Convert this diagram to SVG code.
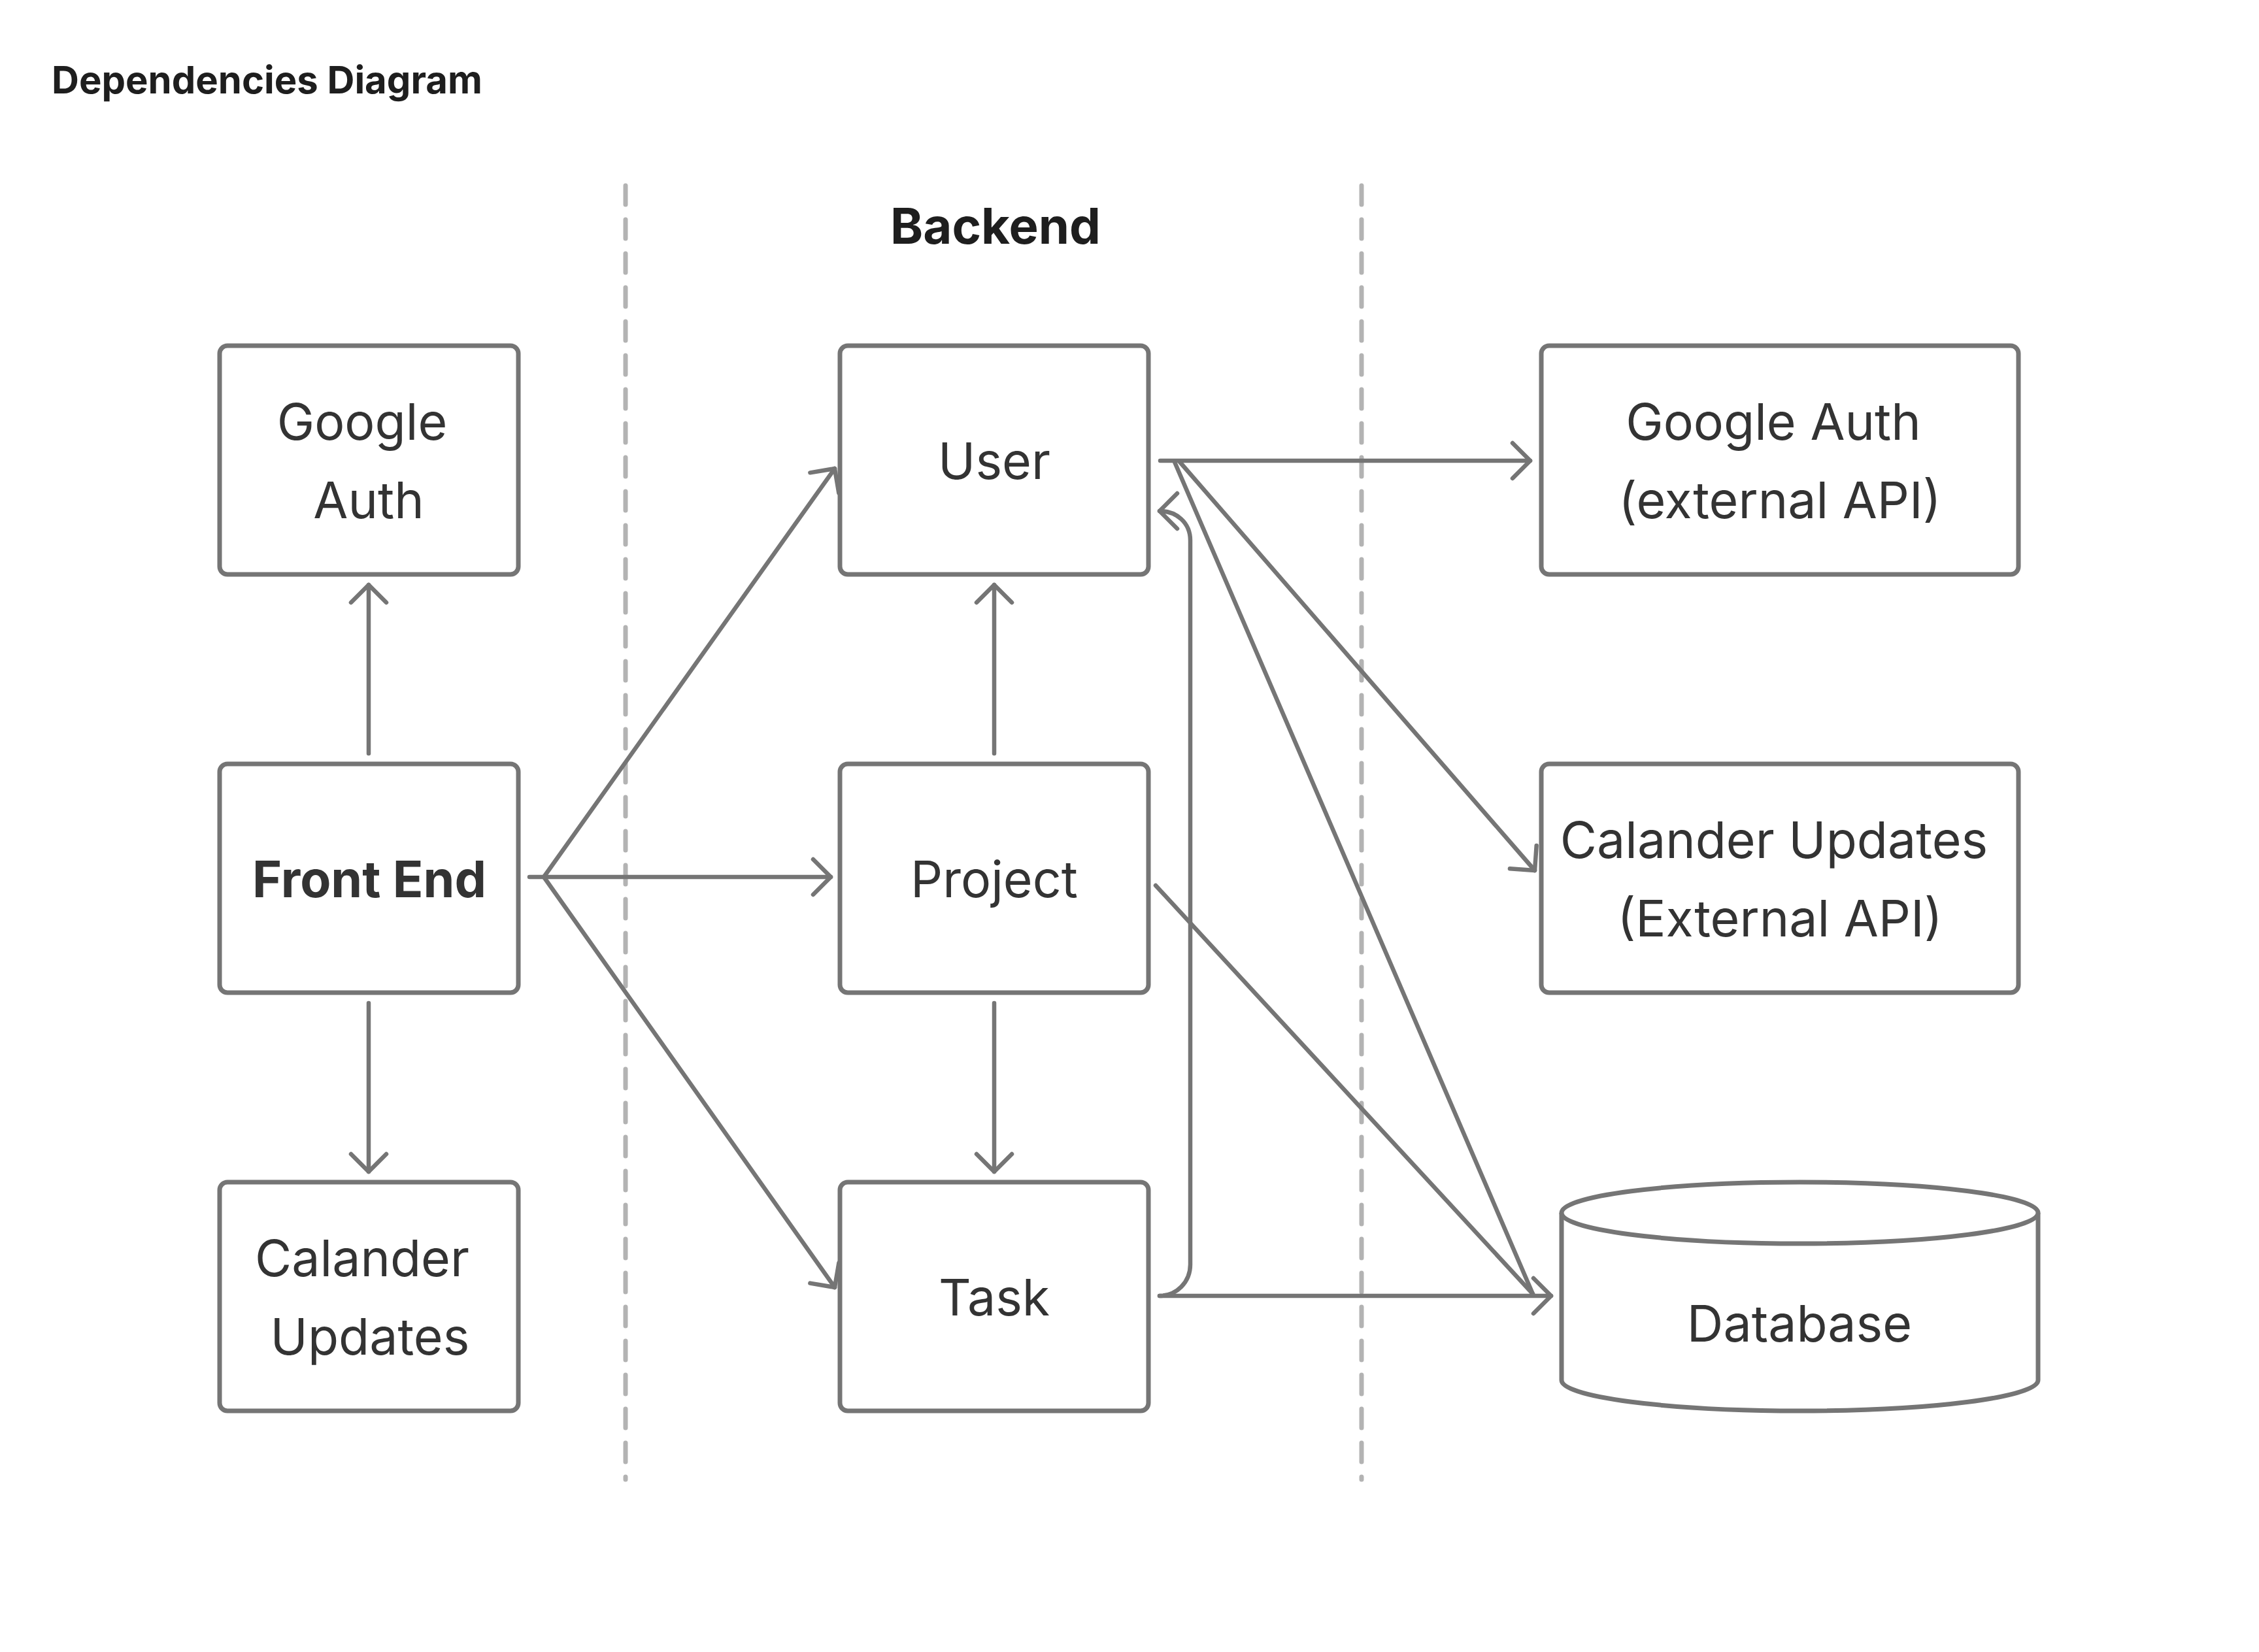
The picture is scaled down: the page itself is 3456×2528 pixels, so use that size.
<svg xmlns="http://www.w3.org/2000/svg" width="3456" height="2528" viewBox="0 0 3456 2528">
<defs>
<style>
.box{fill:#ffffff;stroke:#757575;stroke-width:7}
.lbl{font-family:Inter,"Liberation Sans",sans-serif;font-size:77px;fill:#333333;text-anchor:middle}
.bold{font-weight:700}
.con{fill:none;stroke:#757575;stroke-width:6.5;stroke-linecap:round;stroke-linejoin:round}
.sep{stroke:#b3b3b3;stroke-width:7;stroke-dasharray:29 23;stroke-linecap:round}
</style>
<marker id="arr" markerUnits="userSpaceOnUse" markerWidth="80" markerHeight="80" viewBox="-40 -40 80 80" refX="0" refY="0" orient="auto" overflow="visible">
<path d="M-27,-27 L0,0 L-27,27" fill="none" stroke="#757575" stroke-width="6.5" stroke-linecap="round" stroke-linejoin="round"/>
</marker>
</defs>
<rect width="3456" height="2528" fill="#ffffff"/>
<text x="79" y="143" font-family="Inter,'Liberation Sans',sans-serif" font-size="58" font-weight="700" fill="#1e1e1e">Dependencies Diagram</text>
<text x="1523" y="373" font-family="Inter,'Liberation Sans',sans-serif" font-size="76" font-weight="700" fill="#1e1e1e" text-anchor="middle">Backend</text>
<g id="separators">
<line class="sep" x1="957" y1="284" x2="957" y2="2264"/>
<line class="sep" x1="2083" y1="284" x2="2083" y2="2264"/>
</g>
<g id="connectors">
<path class="con" d="M564,1153 L564,895" marker-end="url(#arr)"/>
<path class="con" d="M564,1535 L564,1793" marker-end="url(#arr)"/>
<path class="con" d="M832,1342 L1277,717" marker-end="url(#arr)"/>
<path class="con" d="M810,1342 L1271,1342" marker-end="url(#arr)"/>
<path class="con" d="M832,1342 L1277,1970" marker-end="url(#arr)"/>
<path class="con" d="M1521,1153 L1521,895" marker-end="url(#arr)"/>
<path class="con" d="M1521,1535 L1521,1793" marker-end="url(#arr)"/>
<path class="con" d="M1775,705 L2341,705" marker-end="url(#arr)"/>
<path class="con" d="M1805,707 L2348,1332" marker-end="url(#arr)"/>
<path class="con" d="M1797,707 L2345,1980"/>
<path class="con" d="M1768,1355 L2345,1980"/>
<path class="con" d="M1774,1983 L2373,1983" marker-end="url(#arr)"/>
<path class="con" d="M1774,1983 C1800,1983 1821,1962 1821,1935 L1821,827 C1821,800 1800,782 1774,782" marker-end="url(#arr)"/>
</g>
<g id="node-google-auth">
<rect class="box" x="336" y="529" width="457" height="350" rx="12"/>
<text class="lbl" x="554" y="673">Google</text>
<text class="lbl" x="564" y="793">Auth</text>
</g>
<g id="node-front-end">
<rect class="box" x="336" y="1169" width="457" height="350" rx="12"/>
<text class="lbl bold" x="565" y="1373">Front End</text>
</g>
<g id="node-calander-updates">
<rect class="box" x="336" y="1809" width="457" height="350" rx="12"/>
<text class="lbl" x="554" y="1953">Calander</text>
<text class="lbl" x="566" y="2073">Updates</text>
</g>
<g id="node-user">
<rect class="box" x="1285" y="529" width="472" height="350" rx="12"/>
<text class="lbl" x="1521" y="733">User</text>
</g>
<g id="node-project">
<rect class="box" x="1285" y="1169" width="472" height="350" rx="12"/>
<text class="lbl" x="1521" y="1373">Project</text>
</g>
<g id="node-task">
<rect class="box" x="1285" y="1809" width="472" height="350" rx="12"/>
<text class="lbl" x="1521" y="2013">Task</text>
</g>
<g id="node-google-auth-ext">
<rect class="box" x="2358" y="529" width="730" height="350" rx="12"/>
<text class="lbl" x="2713" y="673">Google Auth</text>
<text class="lbl" x="2723" y="793">(external API)</text>
</g>
<g id="node-calander-ext">
<rect class="box" x="2358" y="1169" width="730" height="350" rx="12"/>
<text class="lbl" x="2714" y="1313">Calander Updates</text>
<text class="lbl" x="2723" y="1433">(External API)</text>
</g>
<g id="node-database">
<path class="box" d="M2389,1856 A364.5,47 0 0 1 3118,1856 L3118,2112 A364.5,47 0 0 1 2389,2112 Z"/>
<path class="box" fill="none" d="M2389,1856 A364.5,47 0 0 0 3118,1856"/>
<text class="lbl" x="2753" y="2053">Database</text>
</g>
</svg>
